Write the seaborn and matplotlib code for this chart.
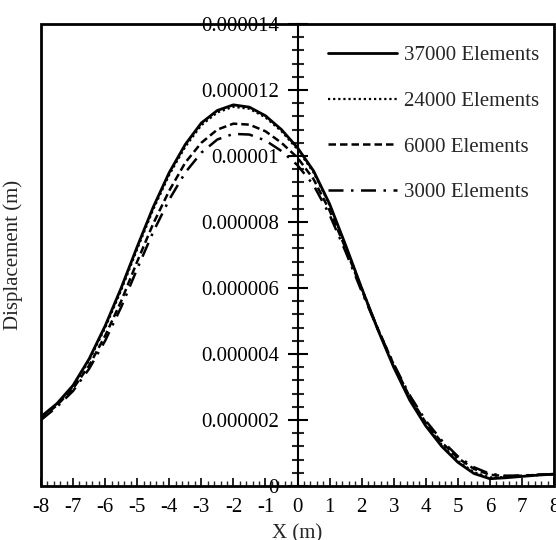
import numpy as np
import pandas as pd
import matplotlib
matplotlib.use("Agg")
import matplotlib.pyplot as plt
from matplotlib.ticker import MultipleLocator, FuncFormatter
from matplotlib.patches import Rectangle
import seaborn as sns

# ---- data (displacement in micrometres, converted to metres below) ----
x_vals = [-8, -7.5, -7, -6.5, -6, -5.5, -5, -4.5, -4, -3.5, -3, -2.5, -2, -1.5, -1, -0.5,
          0, 0.5, 1, 1.5, 2, 2.5, 3, 3.5, 4, 4.5, 5, 5.5, 6, 6.5, 7, 7.5, 8]
disp_37000 = [2.1, 2.5, 3.05, 3.85, 4.85, 6.0, 7.25, 8.45, 9.5, 10.35, 11.0, 11.38, 11.55, 11.48, 11.22, 10.8,
              10.25, 9.55, 8.55, 7.3, 6.0, 4.75, 3.6, 2.6, 1.82, 1.2, 0.72, 0.38, 0.22, 0.25, 0.29, 0.33, 0.36]
disp_24000 = [2.08, 2.48, 3.02, 3.8, 4.79, 5.93, 7.18, 8.38, 9.43, 10.28, 10.93, 11.32, 11.49, 11.43, 11.17, 10.75,
              10.2, 9.5, 8.52, 7.28, 6.0, 4.77, 3.63, 2.64, 1.86, 1.25, 0.76, 0.42, 0.26, 0.27, 0.3, 0.33, 0.36]
disp_6000 = [2.05, 2.45, 2.95, 3.65, 4.55, 5.6, 6.8, 7.95, 8.95, 9.8, 10.4, 10.8, 10.98, 10.95, 10.75, 10.4,
             9.95, 9.3, 8.35, 7.2, 5.95, 4.78, 3.68, 2.7, 1.92, 1.32, 0.85, 0.52, 0.34, 0.3, 0.31, 0.34, 0.36]
disp_3000 = [2.0, 2.4, 2.88, 3.55, 4.4, 5.42, 6.58, 7.7, 8.68, 9.5, 10.1, 10.5, 10.67, 10.65, 10.47, 10.15,
             9.72, 9.12, 8.22, 7.1, 5.9, 4.76, 3.7, 2.75, 1.98, 1.38, 0.9, 0.57, 0.37, 0.31, 0.32, 0.34, 0.36]
series_names = ["37000 Elements", "24000 Elements", "6000 Elements", "3000 Elements"]
y_ticks = [0, 2e-6, 4e-6, 6e-6, 8e-6, 10e-6, 12e-6, 14e-6]
x_ticks = list(range(-8, 9))

frames = []
for name, vals in zip(series_names, [disp_37000, disp_24000, disp_6000, disp_3000]):
    frames.append(pd.DataFrame({"x": x_vals, "y": np.array(vals) * 1e-6, "mesh": name}))
df = pd.concat(frames, ignore_index=True)

sns.set_style("white")
plt.rcParams["font.family"] = ["Liberation Serif", "DejaVu Serif"]
plt.rcParams["axes.unicode_minus"] = False
plt.rcParams["font.size"] = 15

fig = plt.figure(figsize=(5.56, 5.40), dpi=100)
ax = fig.add_axes([41/556, 54/540, 513/556, 462/540])

dashes = {"37000 Elements": "", "24000 Elements": (1, 1.3),
          "6000 Elements": (3, 1.6), "3000 Elements": (6, 3, 1, 3)}
sizes = {"37000 Elements": 2.0, "24000 Elements": 1.6, "6000 Elements": 1.8, "3000 Elements": 1.8}
sns.lineplot(data=df, x="x", y="y", hue="mesh", style="mesh", size="mesh",
             palette={n: "black" for n in series_names}, dashes=dashes, sizes=sizes,
             hue_order=series_names, style_order=series_names, size_order=series_names,
             ax=ax, legend="full")

ax.set_xlim(-8, 8)
ax.set_ylim(0, 14e-6)

# spines: left spine moved to x = 0, box drawn separately
ax.spines["left"].set_position(("data", 0))
ax.spines["right"].set_visible(False)
ax.spines["top"].set_visible(False)
ax.spines["bottom"].set_visible(False)
ax.spines["left"].set_linewidth(1.5)
ax.spines["left"].set_color("black")
ax.add_patch(Rectangle((0, 0), 1, 1, transform=ax.transAxes, fill=False,
                       edgecolor="black", linewidth=2.0, clip_on=False, zorder=5))

ax.set_yticks(y_ticks)
ax.yaxis.set_minor_locator(MultipleLocator(0.4e-6))
ax.yaxis.set_major_formatter(FuncFormatter(lambda v, p: f"{v:.6f}".rstrip("0").rstrip(".")))
ax.tick_params(axis="y", which="major", direction="inout", length=14, width=1.5, pad=6.5,
               labelsize=15, colors="black", left=True)
ax.tick_params(axis="y", which="minor", direction="inout", length=8, width=1.5, left=True)

ax.set_xticks(x_ticks)
ax.xaxis.set_minor_locator(MultipleLocator(0.2))
ax.tick_params(axis="x", which="major", direction="in", length=6, width=1.2, pad=9,
               labelsize=15, colors="black", bottom=True)
ax.tick_params(axis="x", which="minor", direction="in", length=3.5, width=1.0, bottom=True)

ax.set_xlabel("X (m)", fontsize=15, labelpad=5)
ax.set_ylabel("Displacement (m)", fontsize=15)
ax.yaxis.set_label_coords((23 - 41) / 513, 0.5)

leg = ax.legend(loc="upper left", bbox_to_anchor=(0.56, 0.953), frameon=False,
                handlelength=3.3, handletextpad=0.35, labelspacing=1.25, borderpad=0,
                fontsize=15, borderaxespad=0)
for line in leg.get_lines():
    line.set_color("black")

fig.savefig("out.png", dpi=100)
